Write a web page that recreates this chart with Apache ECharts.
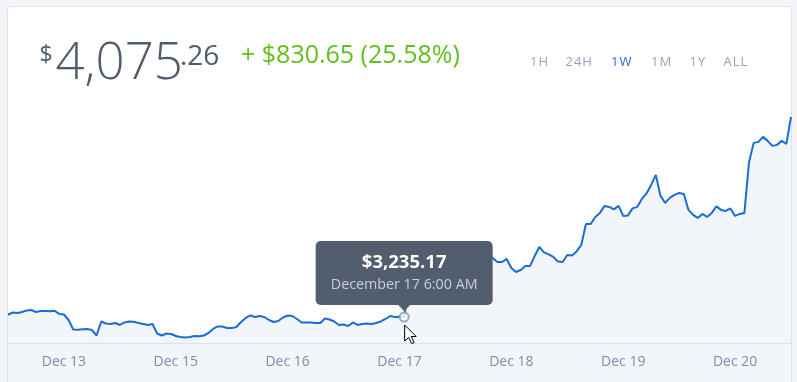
<!DOCTYPE html>
<html><head><meta charset="utf-8">
<script src="https://cdn.jsdelivr.net/npm/echarts@6/dist/echarts.min.js"></script>
<style>
html,body{margin:0;padding:0;background:#f2f4f7;}
#wrap{position:relative;width:797px;height:382px;overflow:hidden;background:#f2f4f7;font-family:"Open Sans",sans-serif;}
#card{position:absolute;left:7px;top:6px;width:783px;height:400px;background:#fff;border:1px solid #dde3ea;border-radius:4px;}
#band{position:absolute;left:8px;top:343px;width:783px;height:39px;background:#f2f5f9;}
#c{position:absolute;left:0;top:0;width:797px;height:382px;}
.t{position:absolute;white-space:nowrap;line-height:1;pointer-events:none;}
</style>
</head><body>
<div id="wrap">
<div id="card"></div>
<div id="band"></div>
<div id="c"></div>
<div id="hdr"></div>
</div>
<script>
// hourly prices over one week
const prices = [
3244.6,3254.1,3252.0,3256.2,3262.5,3264.6,3256.2,3260.4,3260.4,3259.0,
3261.5,3247.8,3245.7,3222.6,3182.7,3182.0,3183.5,3184.8,3180.6,3157.5,
3216.3,3207.9,3205.8,3210.0,3201.6,3212.1,3216.3,3215.0,3210.0,3205.8,
3201.6,3205.8,3165.9,3157.5,3165.9,3163.8,3155.4,3151.2,3149.1,3151.2,
3155.4,3154.0,3157.5,3168.0,3184.8,3195.3,3195.3,3189.0,3188.5,3193.2,
3214.2,3231.0,3241.5,3235.2,3239.4,3235.2,3222.6,3214.2,3218.4,3233.1,
3241.5,3239.4,3226.8,3212.1,3212.5,3212.0,3210.0,3210.0,3228.9,3224.7,
3216.3,3201.6,3203.7,3197.4,3212.1,3201.6,3205.8,3207.9,3205.8,3210.0,
3216.3,3226.8,3239.4,3235.0,3236.0,3235.17,3369.6,3449.4,3466.2,3457.8,
3449.4,3470.4,3483.0,3474.6,3462.0,3478.8,3495.6,3487.2,3470.4,3478.8,
3495.6,3487.2,3478.8,3491.4,3483.0,3466.2,3466.0,3478.8,3441.0,3424.2,
3432.6,3449.4,3449.0,3491.4,3529.2,3506.1,3497.7,3487.2,3468.3,3466.2,
3495.6,3493.5,3510.3,3537.6,3625.8,3625.0,3655.2,3672.0,3701.4,3697.2,
3686.7,3701.4,3659.4,3661.5,3690.9,3697.2,3730.8,3753.9,3789.6,3831.6,
3743.4,3714.0,3735.0,3747.6,3756.0,3751.8,3684.6,3663.6,3651.0,3667.8,
3655.2,3672.0,3699.3,3684.6,3680.4,3690.9,3659.4,3667.8,3672.0,3886.2,
3966.0,3970.2,3991.2,3974.4,3953.4,3957.6,3974.4,3961.8,4075.26
];
const hours = prices.map((_, i) => i);
const tickIndex = [12, 36, 60, 84, 108, 132, 156];
const tickLabels = ['Dec 13', 'Dec 15', 'Dec 16', 'Dec 17', 'Dec 18', 'Dec 19', 'Dec 20'];
const periods = ['1H', '24H', '1W', '1M', '1Y', 'ALL'];
const activePeriod = '1W';
const priceWhole = '4,075';
const priceCents = '.26';
const changeText = '+ $830.65 (25.58%)';
const tipIndex = 85;
const tipPrice = '$3,235.17';
const tipTime = 'December 17 6:00 AM';

const FONT = '"Open Sans", sans-serif';
const SLATE = '#4f5a6a';

// header text
const hdr = document.getElementById('hdr');
function addText(txt, css) {
  const s = document.createElement('span');
  s.className = 't';
  s.textContent = txt;
  Object.assign(s.style, css);
  hdr.appendChild(s);
}
addText('$', {left:'39.5px', top:'42px', fontSize:'23px', color:SLATE});
addText(priceWhole, {left:'55.5px', top:'34px', fontSize:'51px', fontWeight:'300', color:SLATE});
addText(priceCents, {left:'180px', top:'40px', fontSize:'28px', color:SLATE});
addText(changeText, {left:'241px', top:'40.5px', fontSize:'25px', color:'#62c01e'});
const periodX = [530, 565.5, 611, 651, 689.5, 723.5];
periods.forEach((p, i) => addText(p, {left: periodX[i] + 'px', top:'54.5px', fontSize:'13px', letterSpacing:'1px',
  color: p === activePeriod ? '#1d6fd2' : '#98a4b5'}));

const chart = echarts.init(document.getElementById('c'), null, {renderer:'canvas'});
chart.setOption({
  animation: false,
  backgroundColor: 'transparent',
  grid: {left: 8, right: 6, top: 100, bottom: 39},
  xAxis: {
    type: 'category', data: hours, boundaryGap: false,
    axisLine: {lineStyle: {color: '#dde2e8', width: 1}},
    axisTick: {show: false},
    splitLine: {show: false},
    axisLabel: {
      interval: (i) => tickIndex.includes(i),
      formatter: (v, i) => { const k = tickIndex.indexOf(i); return k >= 0 ? tickLabels[k] : ''; },
      color: '#7b8eab', fontFamily: FONT, fontSize: 14, margin: 12
    }
  },
  yAxis: {type: 'value', min: 3126, max: 4146, show: false, splitLine: {show: false}},
  series: [
    {type: 'line', data: prices, symbol: 'none', lineStyle: {color: '#1a6dd3', width: 2},
     areaStyle: {color: '#f2f5f9', opacity: 1}, z: 2},
    {type: 'scatter', data: [[tipIndex, prices[tipIndex]]], symbol: 'circle', symbolSize: 9,
     itemStyle: {color: '#ffffff', borderColor: '#8596ab', borderWidth: 2}, z: 5}
  ]
});

const p = chart.convertToPixel({seriesIndex: 0}, [tipIndex, prices[tipIndex]]);
const W = 177, H = 64;
const bx = p[0] - W / 2, by = p[1] - 12 - H;
const cx = p[0] + 0.5, cy = p[1] + 8;
chart.setOption({graphic: [
  {type: 'rect', z: 100, shape: {x: bx, y: by, width: W, height: H, r: 5}, style: {fill: '#525d6e'}},
  {type: 'polygon', z: 100, shape: {points: [[p[0] - 6, by + H], [p[0] + 6, by + H], [p[0], by + H + 6]]}, style: {fill: '#525d6e'}},
  {type: 'text', z: 101, x: p[0], y: by + 22, style: {text: tipPrice, fill: '#ffffff', font: 'bold 18.5px ' + FONT, align: 'center', verticalAlign: 'middle', textAlign: 'center', textVerticalAlign: 'middle'}},
  {type: 'text', z: 101, x: p[0], y: by + 44, style: {text: tipTime, fill: '#c8cfd9', font: '14.3px ' + FONT, align: 'center', verticalAlign: 'middle', textAlign: 'center', textVerticalAlign: 'middle'}},
  {type: 'polygon', z: 102, shape: {points: [[cx, cy], [cx, cy + 16], [cx + 4, cy + 12.5], [cx + 7, cy + 18.5], [cx + 9.5, cy + 17.5], [cx + 6.5, cy + 11.5], [cx + 11.5, cy + 11.5]]},
   style: {fill: '#ffffff', stroke: '#000000', lineWidth: 1}}
]});
</script>
</body></html>
